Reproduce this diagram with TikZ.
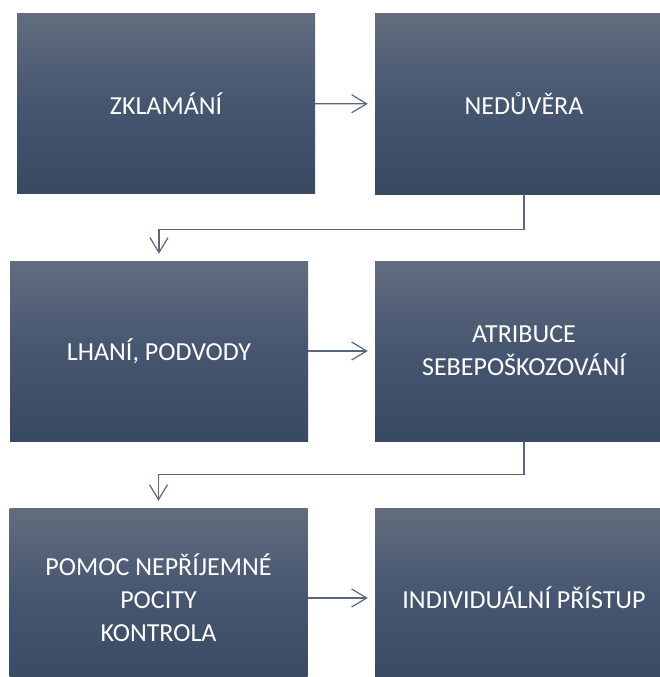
\documentclass[tikz,border=0pt]{standalone}
\usepackage{fontspec}
\setmainfont{Carlito}
\usetikzlibrary{arrows.meta}
\definecolor{boxtop}{RGB}{98,108,126}
\definecolor{boxmid}{RGB}{70,86,112}
\definecolor{boxbot}{RGB}{58,73,98}
\definecolor{linecol}{RGB}{88,102,126}
\tikzset{
  stepbox/.style={rectangle, minimum width=298pt, minimum height=180pt, inner sep=0pt,
    top color=boxtop, bottom color=boxbot, middle color=boxmid,
    text=white, align=center, font=\fontsize{26}{33}\selectfont},
  conn/.style={draw=linecol, line width=1.3pt, -{Straight Barb[length=15pt,width=18pt,line width=1.2pt]}, shorten >=7pt}
}
\begin{document}
\begin{tikzpicture}[x=1pt,y=-1pt]
        \useasboundingbox (0,0) rectangle (660,677);
        \clip (0,0) rectangle (660,677);
        \node[stepbox] (zklamani) at (166,103.5) {ZKLAMÁNÍ};
        \node[stepbox] (neduvera) at (524,104) {NEDŮVĚRA};
        \node[stepbox] (lhani) at (159,351) {LHANÍ, PODVODY};
        \node[stepbox] (atribuce) at (524,351) {ATRIBUCE\\SEBEPOŠKOZOVÁNÍ};
        \node[stepbox] (pomoc) at (158.5,598) {POMOC NEPŘÍJEMNÉ\\POCITY\\KONTROLA};
        \node[stepbox] (pristup) at (524,598) {INDIVIDUÁLNÍ PŘÍSTUP};

        \draw[conn] (zklamani) -- (neduvera);
        \draw[conn] (neduvera.south) -- ++(0,35) -| (lhani.north);
        \draw[conn] (lhani) -- (atribuce);
        \draw[conn] (atribuce.south) -- ++(0,33) -| (pomoc.north);
        \draw[conn] (pomoc) -- (pristup);
\end{tikzpicture}
\end{document}
